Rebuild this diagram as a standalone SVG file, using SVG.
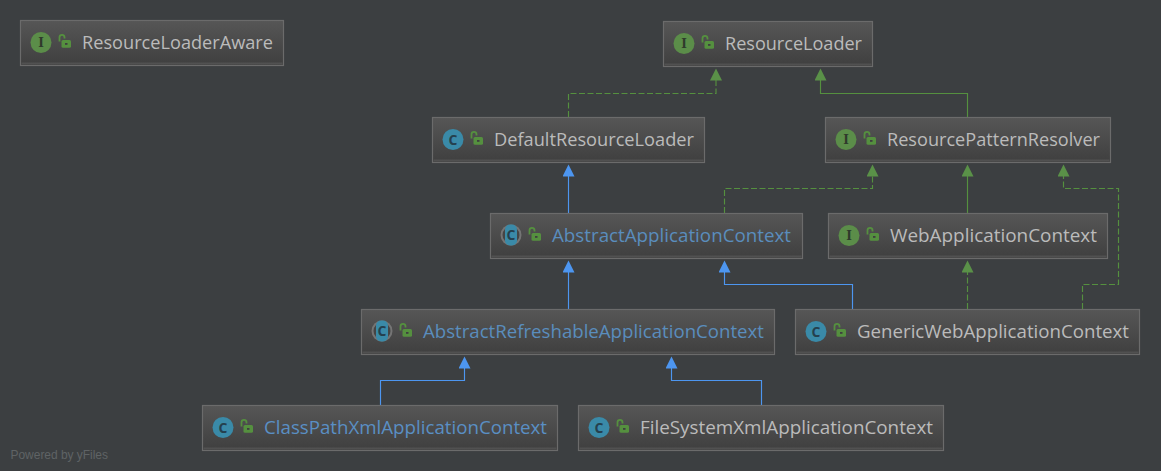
<svg xmlns="http://www.w3.org/2000/svg" xmlns:xlink="http://www.w3.org/1999/xlink" width="1161" height="471" viewBox="0 0 1161 471">
<style>
.box{fill:url(#nodeFill);stroke:#6b6b6b;stroke-width:1.2}
.band{fill:#5e5e5e;opacity:.55}
.lbl{font-family:"Open Sans","Liberation Sans",sans-serif;font-size:18px;fill:#bbbbbb}
.lbl.abs{fill:#5a8dbd}
.lbl.src{fill:#5a8fc4}
.edge{fill:none;stroke-width:1.15}
.blue{stroke:#4d96f0}
.green{stroke:#55903f}
.dash{stroke-dasharray:6 2.5}
.letter{font-family:"DejaVu Serif","Liberation Serif",serif;font-size:12px;font-weight:700;text-anchor:middle;fill:#2f3a2c}
.cletter{font-family:"Open Sans","Liberation Sans",sans-serif;font-size:14px;font-weight:700;text-anchor:middle;fill:#25404e}
.credit{font-family:"Liberation Sans",Arial,sans-serif;font-size:12px;fill:#5f6365}
</style>
<defs>
<linearGradient id="nodeFill" x1="0" y1="0" x2="0" y2="1"><stop offset="0" stop-color="#565656"/><stop offset="1" stop-color="#3f3f3f"/></linearGradient>
<marker id="arrowBlue" markerUnits="userSpaceOnUse" markerWidth="14" markerHeight="13" refX="0.5" refY="6" orient="auto"><path d="M0 0L12 6L0 12Z" fill="#4d96f0"/></marker>
<marker id="arrowGreen" markerUnits="userSpaceOnUse" markerWidth="14" markerHeight="13" refX="0.5" refY="6" orient="auto"><path d="M0 0L12 6L0 12Z" fill="#5a9148"/></marker>
<g id="lock"><path d="M-5.5 -1V-5.2Q-5.5 -7.6 -3 -7.6Q-0.5 -7.6 -0.5 -5.2V-4" fill="none" stroke="#55903f" stroke-width="1.8"/><rect x="-3.5" y="-2.5" width="9.500" height="7.800" rx="1.500" fill="#55903f"/><rect x="0" y="0.500" width="2.500" height="1.800" fill="#3f3f3f"/></g>
<g id="iconI"><circle r="10.500" fill="#5b8d49"/><text class="letter" y="4.500">I</text></g>
<g id="iconC"><circle r="10.500" fill="#3a8aa8"/><text class="cletter" y="5">C</text></g>
<g id="iconAbs"><circle r="10.500" fill="#757575"/><circle r="8.500" fill="#454545"/><rect x="-6" y="-10.500" width="12" height="21" rx="5" fill="#3a8aa8"/><text class="cletter" y="5">C</text></g>
</defs>
<rect width="1161" height="471" fill="#3c3f41"/>
<g id="connectors">
<path class="edge green dash" marker-end="url(#arrowGreen)" d="M568.500 117V93.500H716V80"/>
<path class="edge green" marker-end="url(#arrowGreen)" d="M967.500 117V93.500H820.500V80"/>
<path class="edge blue" marker-end="url(#arrowBlue)" d="M568.500 213V176"/>
<path class="edge green dash" marker-end="url(#arrowGreen)" d="M724.500 213V188.500H872.500V176"/>
<path class="edge green" marker-end="url(#arrowGreen)" d="M967.500 213V176"/>
<path class="edge green dash" marker-end="url(#arrowGreen)" d="M1082.500 309V284.500H1118.500V188.500H1063.500V176"/>
<path class="edge green dash" marker-end="url(#arrowGreen)" d="M967.500 309V272"/>
<path class="edge blue" marker-end="url(#arrowBlue)" d="M852.500 309V284.500H724.500V272"/>
<path class="edge blue" marker-end="url(#arrowBlue)" d="M568.500 309V272"/>
<path class="edge blue" marker-end="url(#arrowBlue)" d="M380.500 405V380.500H464.500V368"/>
<path class="edge blue" marker-end="url(#arrowBlue)" d="M761.500 405V380.500H671.500V368"/>
</g>
<g id="ResourceLoaderAware" transform="translate(20.500 20.500)"><rect class="box" width="263" height="45"/><rect class="band" x="1" y="42" width="261" height="2"/><use xlink:href="#iconI" x="20.500" y="22"/><use xlink:href="#lock" x="44.500" y="22"/><text class="lbl" x="61.500" y="28" textLength="191" lengthAdjust="spacingAndGlyphs">ResourceLoaderAware</text></g>
<g id="ResourceLoader" transform="translate(663.500 21.500)"><rect class="box" width="209" height="45"/><rect class="band" x="1" y="42" width="207" height="2"/><use xlink:href="#iconI" x="20.500" y="22"/><use xlink:href="#lock" x="44.500" y="22"/><text class="lbl" x="61.500" y="28" textLength="137" lengthAdjust="spacingAndGlyphs">ResourceLoader</text></g>
<g id="DefaultResourceLoader" transform="translate(432.500 117.500)"><rect class="box" width="272" height="45"/><rect class="band" x="1" y="42" width="270" height="2"/><use xlink:href="#iconC" x="20.500" y="22"/><use xlink:href="#lock" x="44.500" y="22"/><text class="lbl" x="61.500" y="28" textLength="200" lengthAdjust="spacingAndGlyphs">DefaultResourceLoader</text></g>
<g id="ResourcePatternResolver" transform="translate(825.500 117.500)"><rect class="box" width="285" height="45"/><rect class="band" x="1" y="42" width="283" height="2"/><use xlink:href="#iconI" x="20.500" y="22"/><use xlink:href="#lock" x="44.500" y="22"/><text class="lbl" x="61.500" y="28" textLength="213" lengthAdjust="spacingAndGlyphs">ResourcePatternResolver</text></g>
<g id="AbstractApplicationContext" transform="translate(490.500 213.500)"><rect class="box" width="312" height="45"/><rect class="band" x="1" y="42" width="310" height="2"/><use xlink:href="#iconAbs" x="20.500" y="21.500"/><use xlink:href="#lock" x="44.500" y="22"/><text class="lbl abs" x="61.500" y="28" textLength="239" lengthAdjust="spacingAndGlyphs">AbstractApplicationContext</text></g>
<g id="WebApplicationContext" transform="translate(828.500 213.500)"><rect class="box" width="279" height="45"/><rect class="band" x="1" y="42" width="277" height="2"/><use xlink:href="#iconI" x="20.500" y="22"/><use xlink:href="#lock" x="44.500" y="22"/><text class="lbl" x="61.500" y="28" textLength="207" lengthAdjust="spacingAndGlyphs">WebApplicationContext</text></g>
<g id="AbstractRefreshableApplicationContext" transform="translate(361.500 309.500)"><rect class="box" width="413" height="45"/><rect class="band" x="1" y="42" width="411" height="2"/><use xlink:href="#iconAbs" x="20.500" y="21.500"/><use xlink:href="#lock" x="44.500" y="22"/><text class="lbl abs" x="61.500" y="28" textLength="341" lengthAdjust="spacingAndGlyphs">AbstractRefreshableApplicationContext</text></g>
<g id="GenericWebApplicationContext" transform="translate(795.500 309.500)"><rect class="box" width="344" height="45"/><rect class="band" x="1" y="42" width="342" height="2"/><use xlink:href="#iconC" x="20.500" y="22"/><use xlink:href="#lock" x="44.500" y="22"/><text class="lbl" x="61.500" y="28" textLength="272" lengthAdjust="spacingAndGlyphs">GenericWebApplicationContext</text></g>
<g id="ClassPathXmlApplicationContext" transform="translate(202.500 405.500)"><rect class="box" width="355" height="45"/><rect class="band" x="1" y="42" width="353" height="2"/><use xlink:href="#iconC" x="20.500" y="22"/><use xlink:href="#lock" x="44.500" y="22"/><text class="lbl src" x="61.500" y="28" textLength="283" lengthAdjust="spacingAndGlyphs">ClassPathXmlApplicationContext</text></g>
<g id="FileSystemXmlApplicationContext" transform="translate(578.500 405.500)"><rect class="box" width="365" height="45"/><rect class="band" x="1" y="42" width="363" height="2"/><use xlink:href="#iconC" x="20.500" y="22"/><use xlink:href="#lock" x="44.500" y="22"/><text class="lbl" x="61.500" y="28" textLength="293" lengthAdjust="spacingAndGlyphs">FileSystemXmlApplicationContext</text></g>
<text class="credit" x="10.500" y="459" textLength="97.500" lengthAdjust="spacing">Powered by yFiles</text>
</svg>
